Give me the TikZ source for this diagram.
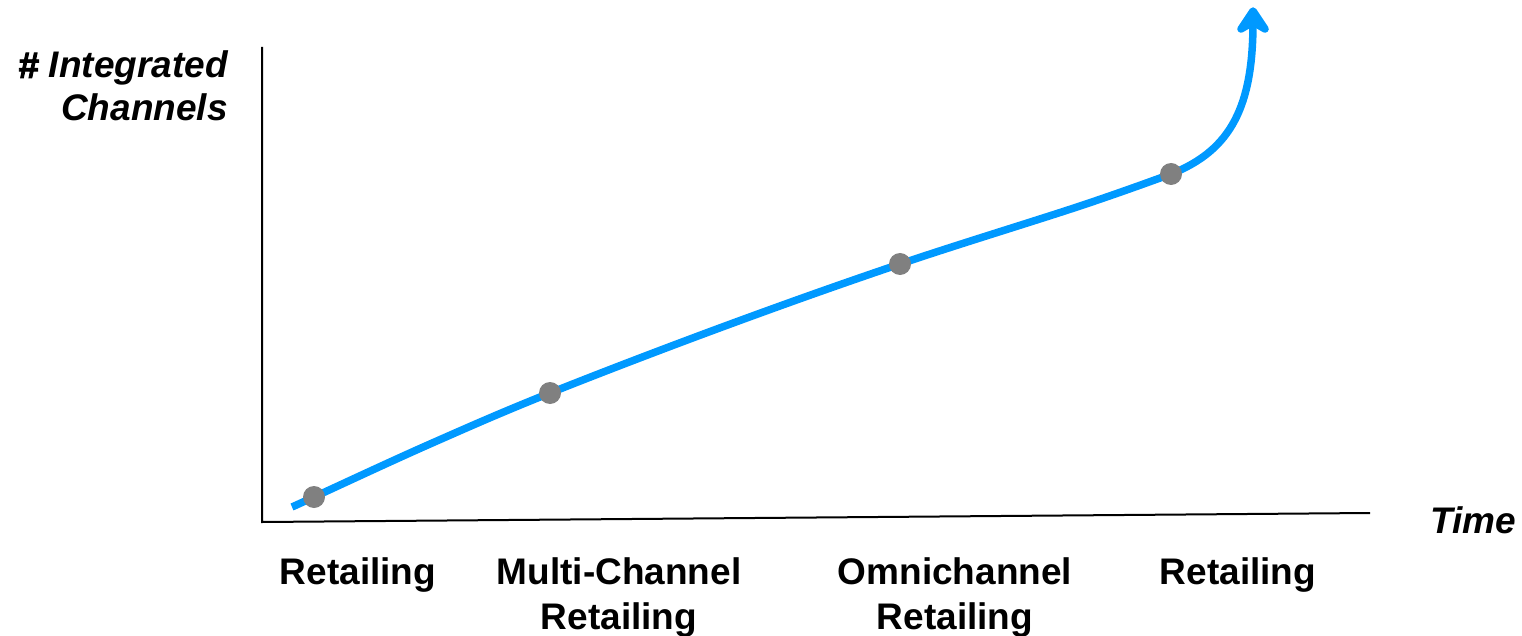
\documentclass[tikz,border=0pt]{standalone}
\usepackage{fontspec}
\setmainfont{Liberation Sans}
\newfontfamily\axisfont{Liberation Sans Bold Italic}
\newfontfamily\hashfont[FakeBold=2.5]{Liberation Sans Bold Italic}
\usetikzlibrary{arrows.meta}
\definecolor{curveblue}{RGB}{0,153,255}
\definecolor{dotgray}{RGB}{128,128,128}
\begin{document}
\begin{tikzpicture}[x=1pt,y=-1pt,
  lbl/.style={font=\fontsize{37}{45}\selectfont\bfseries, align=center, inner sep=0pt, anchor=base},
  axlbl/.style={font=\fontsize{37}{43}\selectfont\axisfont, inner sep=0pt, anchor=base},
  dot/.style={circle, fill=dotgray, minimum size=22pt, inner sep=0pt},
  axis/.style={line width=2pt, black},
  growth/.style={line width=7.5pt, curveblue, line cap=butt},
  headstyle/.style={draw=curveblue, line width=7.5pt, line cap=round, line join=round}]
\useasboundingbox (0,0) rectangle (1522,636);
% axes
\coordinate (o) at (262,522);
\coordinate (ytop) at (262,47);
\coordinate (xend) at (1370,513);
\draw[axis] (ytop) -- (o) -- (xend);
% curve
\coordinate (s) at (292,507);
\coordinate (p1) at (314,497);
\coordinate (m1) at (430,444);
\coordinate (p2) at (550,393);
\coordinate (m2) at (725,326);
\coordinate (p3) at (900,264);
\coordinate (m3) at (1080,206);
\coordinate (p4) at (1171,174);
\coordinate (shaft) at (1253,22);
\coordinate (tip) at (1253,11);
\coordinate (wl) at (1241,29);
\coordinate (wr) at (1265,29);
\draw[growth]
  plot[smooth, tension=0.6] coordinates {(s) (p1) (m1) (p2) (m2) (p3) (m3) (p4)}
  .. controls (1232,150) and (1253,105) .. (shaft);
% arrow head
\draw[headstyle, fill=curveblue] (wl) -- (tip) -- (wr) -- (shaft) -- cycle;
\node[dot] (d1) at (p1) {};
\node[dot] (d2) at (p2) {};
\node[dot] (d3) at (p3) {};
\node[dot] (d4) at (p4) {};
% labels
\node[lbl] (l1) at (358,584) {Retailing};
\node[lbl] (l2a) at (619,584) {Multi-Channel};
\node[lbl] (l2b) at (619,629) {Retailing};
\node[lbl] (l3a) at (955,584) {Omnichannel};
\node[lbl] (l3b) at (955,629) {Retailing};
\node[lbl] (l4) at (1238,584) {Retailing};
\node[axlbl, anchor=base] (time) at (1473,533) {Time};
\node[axlbl, anchor=base east] (ya) at (228,78) {{\hashfont\#} Integrated};
\node[axlbl, anchor=base east] (yb) at (228,121) {Channels};
\end{tikzpicture}
\end{document}
